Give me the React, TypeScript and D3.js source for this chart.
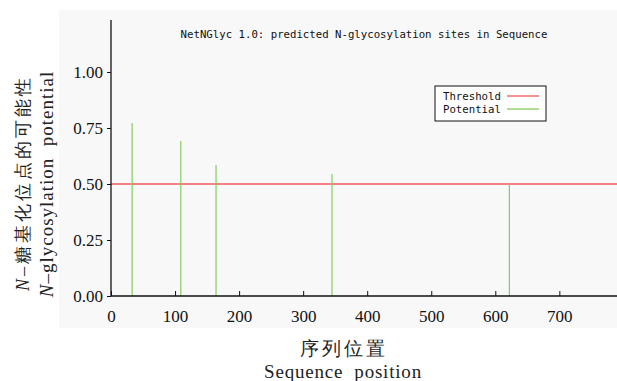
import React, { useRef, useEffect } from 'react'
import * as d3 from 'd3'

// predicted N-glycosylation sites: position and potential
const sitePositions = [33, 109, 164, 345, 622]
const sitePotentials = [0.772, 0.692, 0.585, 0.545, 0.502]
const threshold = 0.5
const xTicks = [0, 100, 200, 300, 400, 500, 600, 700]
const yTicks = [0, 0.25, 0.5, 0.75, 1.0]

const W = 617
const H = 381

const App = () => {
    const ref = useRef<SVGSVGElement>(null)

    useEffect(() => {
        const svg = d3.select(ref.current)
        svg.selectAll('*').remove()

        const serif = '"Liberation Serif", "DejaVu Serif", serif'
        const mono = '"DejaVu Sans Mono", "Liberation Mono", monospace'

        // light gray plot panel
        svg.append('rect')
            .attr('x', 59).attr('y', 10)
            .attr('width', W - 59).attr('height', 318)
            .attr('fill', '#f8f8f8')

        const x = d3.scaleLinear().domain([0, 790]).range([111, 617])
        const y = d3.scaleLinear().domain([0, 1]).range([296, 72])

        // threshold line
        svg.append('line')
            .attr('x1', x(0)).attr('x2', W)
            .attr('y1', y(threshold)).attr('y2', y(threshold))
            .attr('stroke', '#f25a5a').attr('stroke-width', 1.3)

        // potential bars
        svg.append('g').selectAll('line')
            .data(sitePositions)
            .enter()
            .append('line')
            .attr('x1', d => x(d)).attr('x2', d => x(d))
            .attr('y1', y(0))
            .attr('y2', (d, i) => y(sitePotentials[i]))
            .attr('stroke', '#86cc5e').attr('stroke-width', 1.2)

        // x axis (ticks inward)
        const gx = svg.append('g')
            .attr('transform', `translate(0,${y(0)})`)
            .call(d3.axisBottom(x).tickValues(xTicks).tickSize(-5).tickPadding(14).tickSizeOuter(0))
        gx.select('.domain').attr('d', `M${x(0)},0H${W}`).attr('stroke', '#111').attr('stroke-width', 1.5)
        gx.selectAll('.tick line').attr('stroke', '#111')
        gx.selectAll('.tick text')
            .attr('font-family', serif).attr('font-size', 17).attr('fill', '#111')

        // y axis
        const gy = svg.append('g')
            .attr('transform', `translate(${x(0)},0)`)
            .call(d3.axisLeft(y).tickValues(yTicks).tickFormat(d3.format('.2f')).tickSize(4).tickPadding(4).tickSizeOuter(0))
        gy.select('.domain').attr('d', `M0,20V${y(0)}`).attr('stroke', '#111').attr('stroke-width', 1.3)
        gy.selectAll('.tick line').attr('stroke', '#111')
        gy.selectAll('.tick text')
            .attr('font-family', serif).attr('font-size', 17).attr('fill', '#111')

        // title
        svg.append('text')
            .attr('x', 364).attr('y', 38)
            .attr('text-anchor', 'middle')
            .attr('font-family', mono).attr('font-size', 10.7).attr('fill', '#111')
            .text('NetNGlyc 1.0: predicted N-glycosylation sites in Sequence')

        // legend
        const legend = svg.append('g').attr('transform', 'translate(435,86)')
        legend.append('rect')
            .attr('width', 111).attr('height', 35)
            .attr('fill', 'white').attr('stroke', '#111').attr('stroke-width', 1)
        const items = [
            { label: 'Threshold', color: '#f25a5a' },
            { label: 'Potential', color: '#86cc5e' },
        ]
        items.forEach((item, i) => {
            legend.append('text')
                .attr('x', 8).attr('y', 14 + i * 13)
                .attr('font-family', mono).attr('font-size', 10.7).attr('fill', '#111')
                .text(item.label)
            legend.append('line')
                .attr('x1', 72).attr('x2', 104)
                .attr('y1', 10 + i * 13).attr('y2', 10 + i * 13)
                .attr('stroke', item.color).attr('stroke-width', 1.3)
        })

        // y axis titles (rotated)
        const yt1 = svg.append('text')
            .attr('transform', 'translate(29,183) rotate(-90)')
            .attr('text-anchor', 'middle')
            .attr('font-family', serif).attr('font-size', 18).attr('fill', '#222')
            .attr('letter-spacing', 3)
        yt1.append('tspan').attr('font-style', 'italic').text('N')
        yt1.append('tspan').text('–糖基化位点的可能性')

        const yt2 = svg.append('text')
            .attr('transform', 'translate(53,184) rotate(-90)')
            .attr('text-anchor', 'middle')
            .attr('font-family', serif).attr('font-size', 19).attr('fill', '#222')
            .attr('letter-spacing', 1)
        yt2.append('tspan').attr('font-style', 'italic').text('N')
        yt2.append('tspan').text('–glycosylation\u00a0\u00a0potential')

        // x axis titles
        svg.append('text')
            .attr('x', 344).attr('y', 355)
            .attr('text-anchor', 'middle')
            .attr('font-family', serif).attr('font-size', 19).attr('fill', '#222')
            .attr('letter-spacing', 3)
            .text('序列位置')
        svg.append('text')
            .attr('x', 343).attr('y', 378)
            .attr('text-anchor', 'middle')
            .attr('font-family', serif).attr('font-size', 19).attr('fill', '#222')
            .attr('letter-spacing', 0.8)
            .text('Sequence\u00a0\u00a0position')
    }, [])

    return (
        <svg ref={ref} width={W} height={H}
            style={{ position: 'absolute', left: 0, top: 0, background: 'white' }} />
    )
}

export default App
